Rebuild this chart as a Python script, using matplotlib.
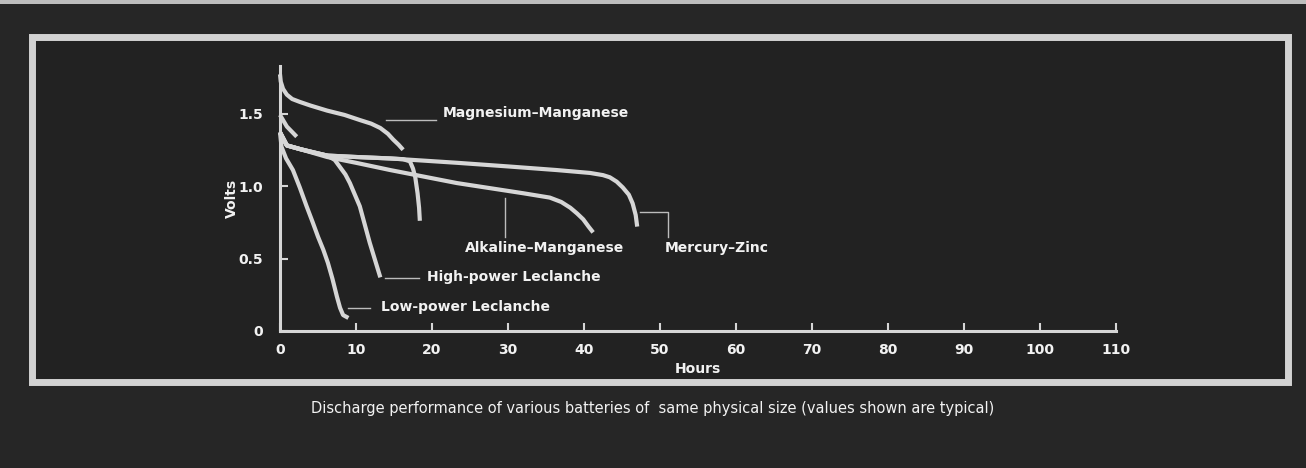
import matplotlib.pyplot as plt
from matplotlib.patches import Rectangle

# data (hours, volts)
mg_hours = [0, 0.1, 0.4, 0.9, 1.6, 2.6, 4, 6.2, 8.5, 10.5, 12, 13.2, 14.2, 14.9, 15.6, 16.2]
mg_volts = [1.77, 1.72, 1.67, 1.63, 1.60, 1.58, 1.555, 1.52, 1.49, 1.455, 1.43, 1.40, 1.36, 1.32, 1.285, 1.25]

short_hours = [0, 0.9, 2.2]
short_volts = [1.49, 1.41, 1.34]

hg_hours = [0, 0.9, 2.6, 6.2, 10, 14.5, 23.3, 30, 36.4, 40.8, 42.5, 43.4, 44.3, 45.1, 45.9, 46.4, 46.8, 47]
hg_volts = [1.37, 1.28, 1.255, 1.21, 1.20, 1.19, 1.16, 1.135, 1.11, 1.09, 1.075, 1.06, 1.03, 0.99, 0.94, 0.88, 0.80, 0.72]

alk_hours = [0, 0.9, 2.6, 6.2, 10, 14.5, 23.3, 32, 35.5, 37, 38.2, 39.1, 39.9, 40.6, 41.2]
alk_volts = [1.37, 1.28, 1.255, 1.20, 1.16, 1.11, 1.02, 0.95, 0.92, 0.89, 0.85, 0.81, 0.77, 0.72, 0.68]

mid_hours = [0, 0.9, 2.6, 6.2, 10, 14.5, 16.2, 17.1, 17.5, 17.8, 18.1, 18.3, 18.4]
mid_volts = [1.37, 1.28, 1.255, 1.21, 1.20, 1.19, 1.185, 1.17, 1.12, 1.06, 0.95, 0.85, 0.76]

hp_hours = [0, 0.9, 2.6, 4.5, 6.2, 7.2, 7.9, 8.6, 9.2, 10.5, 11.8, 13.2]
hp_volts = [1.37, 1.28, 1.255, 1.23, 1.21, 1.18, 1.13, 1.08, 1.02, 0.86, 0.61, 0.37]

lp_hours = [0, 0.2, 0.8, 1.7, 2.6, 3.5, 4.3, 5.0, 5.7, 6.3, 6.9, 7.5, 7.9, 8.3, 9.0]
lp_volts = [1.37, 1.27, 1.19, 1.11, 0.99, 0.86, 0.75, 0.65, 0.56, 0.47, 0.36, 0.235, 0.16, 0.11, 0.09]

x_ticks = [0, 10, 20, 30, 40, 50, 60, 70, 80, 90, 100, 110]
y_ticks = [0, 0.5, 1.0, 1.5]
y_tick_labels = ['0', '0.5', '1.0', '1.5']

bg = '#222222'
fg = '#d6d6d6'
txt = '#f2f2f2'

fig = plt.figure(figsize=(13.06, 4.68), dpi=100, facecolor='#262626')

# light frame around the chart panel (behind the axes)
fig.patches.append(Rectangle((0, 0.992), 1, 0.008, transform=fig.transFigure,
                             facecolor='#bdbdbd', edgecolor='none', zorder=-5))
fig.patches.append(Rectangle((32 / 1306, 1 - 382 / 468), 1256 / 1306, 345 / 468,
                             transform=fig.transFigure, facecolor=bg,
                             edgecolor='#d2d2d2', linewidth=5, zorder=-5))

ax = fig.add_axes([280 / 1306, 1 - 331 / 468, 836 / 1306, 1.83 * 145 / 468])
ax.set_facecolor('none')
ax.set_xlim(0, 110)
ax.set_ylim(0, 1.83)

curves = [(mg_hours, mg_volts), (short_hours, short_volts), (hg_hours, hg_volts),
          (alk_hours, alk_volts), (mid_hours, mid_volts), (hp_hours, hp_volts),
          (lp_hours, lp_volts)]
for h, v in curves:
    ax.plot(h, v, color=fg, lw=3.0, solid_capstyle='butt', solid_joinstyle='round',
            clip_on=False)

# leader lines
lk = dict(color='#bcbcbc', lw=1.0, clip_on=False)
ax.plot([14, 20.5], [1.455, 1.455], **lk)
ax.plot([29.6, 29.6], [0.92, 0.65], **lk)
ax.plot([47.4, 51.1, 51.1], [0.82, 0.82, 0.65], **lk)
ax.plot([13.8, 18.3], [0.365, 0.365], **lk)
ax.plot([9.0, 11.8], [0.16, 0.16], **lk)

lab = dict(color=txt, fontsize=10, fontweight='bold', va='center', ha='left')
ax.text(21.4, 1.50, 'Magnesium–Manganese', **lab)
ax.text(24.3, 0.57, 'Alkaline–Manganese', **lab)
ax.text(50.6, 0.57, 'Mercury–Zinc', **lab)
ax.text(19.3, 0.37, 'High-power Leclanche', **lab)
ax.text(13.3, 0.165, 'Low-power Leclanche', **lab)

for s in ['top', 'right']:
    ax.spines[s].set_visible(False)
for s in ['left', 'bottom']:
    ax.spines[s].set_color(fg)
    ax.spines[s].set_linewidth(2.2)

ax.set_xticks(x_ticks)
ax.set_yticks(y_ticks)
ax.set_yticklabels(y_tick_labels)
ax.tick_params(direction='in', length=6, width=1.5, color=fg, labelcolor=txt,
               labelsize=10)
ax.tick_params(axis='x', pad=9)
ax.tick_params(axis='y', pad=12)
for t in ax.get_xticklabels() + ax.get_yticklabels():
    t.set_fontweight('bold')

ax.set_xlabel('Hours', color=txt, fontsize=10, fontweight='bold', labelpad=3)
ax.set_ylabel('Volts', color=txt, fontsize=10, fontweight='bold', labelpad=0)

fig.text(0.5, 1 - 408 / 468, 'Discharge performance of various batteries of  same physical size (values shown are typical)',
         color=txt, fontsize=10.5, ha='center', va='center')

fig.savefig('out.png', dpi=100, facecolor=fig.get_facecolor())
